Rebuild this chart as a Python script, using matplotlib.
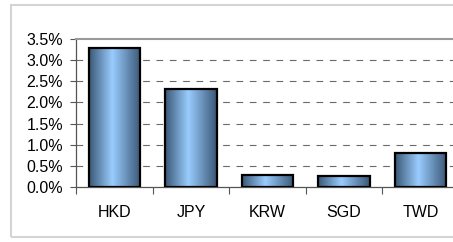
import matplotlib.pyplot as plt
import numpy as np
from matplotlib.colors import LinearSegmentedColormap
from matplotlib.patches import Rectangle

plt.rcParams['font.family'] = ['Liberation Sans', 'DejaVu Sans']

currencies = ['HKD', 'JPY', 'KRW', 'SGD', 'TWD']
values = [3.29, 2.32, 0.29, 0.26, 0.80]
yticks = [0.0, 0.5, 1.0, 1.5, 2.0, 2.5, 3.0, 3.5]

fig = plt.figure(figsize=(4.53, 2.42), dpi=100)

# outer chart border (runs off the right side like the original)
fig.patches.append(Rectangle((10.5 / 453, 5 / 242), 460 / 453, 232 / 242,
                             transform=fig.transFigure, fill=False,
                             edgecolor='#d4d4d4', linewidth=1.5))

ax = fig.add_axes([76 / 453, 1 - 187 / 242, 383 / 453, 148 / 242])

x = np.arange(len(currencies))
width = 0.67
cmap = LinearSegmentedColormap.from_list(
    'bar', [(0, '#3a5775'), (0.45, '#99ccff'), (1, '#3a5775')])
grad = np.linspace(0, 1, 256).reshape(1, -1)

for xi, v in zip(x, values):
    ax.imshow(grad, cmap=cmap, aspect='auto', interpolation='bilinear',
              extent=(xi - width / 2, xi + width / 2, 0, v), zorder=2)
bars = ax.bar(x, values, width=width, facecolor='none',
              edgecolor='black', linewidth=1.6, zorder=3)

ax.set_xlim(-0.5, len(currencies) - 0.5)
ax.set_ylim(0, 3.5)
ax.set_yticks(yticks)
ax.set_yticklabels([f'{t:.1f}%' for t in yticks], fontsize=11.5)
ax.set_xticks(x)
ax.set_xticklabels(currencies, fontsize=11.5)
ax.set_xticks(np.arange(len(currencies) + 1) - 0.5, minor=True)
ax.tick_params(axis='x', which='major', length=0, pad=13)
ax.tick_params(axis='x', which='minor', length=5, width=0.8, color='#555555')
ax.tick_params(axis='y', length=4.3, width=0.8, color='#555555', pad=5)

for t in yticks[1:-1]:
    ax.axhline(t, color='#6a6a6a', linewidth=0.8, linestyle=(0, (6, 6)), zorder=1)

ax.spines['right'].set_visible(False)
ax.spines['top'].set_color('#9a9a9a')
ax.spines['top'].set_linewidth(1.5)
ax.spines['left'].set_color('#555555')
ax.spines['left'].set_linewidth(0.9)
ax.spines['bottom'].set_color('#555555')
ax.spines['bottom'].set_linewidth(0.9)

fig.savefig('out.png', dpi=100)
